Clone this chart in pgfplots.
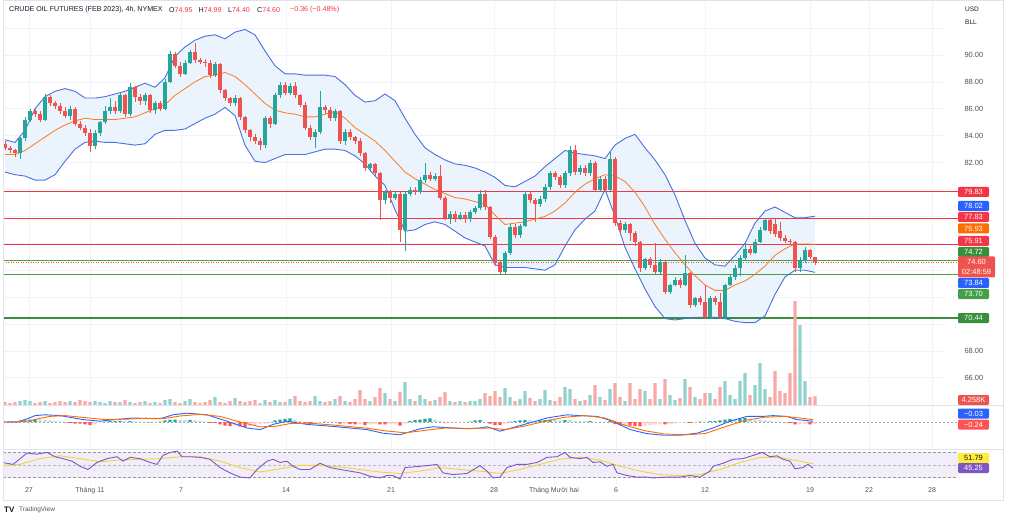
\documentclass[border=0pt]{standalone}
\usepackage{pgfplots}
\pgfplotsset{compat=1.18}
\usepackage{pgfplotstable}
\usepackage{fontspec}
\setmainfont{Liberation Sans}

\definecolor{upc}{HTML}{26A69A}
\definecolor{dnc}{HTML}{EF5350}
\definecolor{volup}{HTML}{92D2CC}
\definecolor{voldn}{HTML}{F7A9A7}
\definecolor{bbline}{HTML}{4A6FE0}
\definecolor{bbfill}{HTML}{EBF3FC}
\definecolor{basis}{HTML}{FF7A1A}
\definecolor{redln}{HTML}{F23645}
\definecolor{grnln}{HTML}{43A047}
\definecolor{grndk}{HTML}{388E3C}
\definecolor{macdc}{HTML}{2962FF}
\definecolor{sigc}{HTML}{FF6D00}
\definecolor{hdt}{HTML}{26A69A}
\definecolor{hlt}{HTML}{B2DFDB}
\definecolor{hdr}{HTML}{FF5252}
\definecolor{hlr}{HTML}{FFCDD2}
\definecolor{rsic}{HTML}{7E57C2}
\definecolor{rsima}{HTML}{F2D33C}
\definecolor{rsibg}{HTML}{F2EEF9}
\definecolor{gridc}{HTML}{F0F3FA}
\definecolor{sepc}{HTML}{E0E3EB}
\definecolor{txtc}{HTML}{131722}
\definecolor{tickc}{HTML}{4C525E}
\definecolor{bluelab}{HTML}{2962FF}
\definecolor{orlab}{HTML}{FF6D00}
\definecolor{yellab}{HTML}{FFEB3B}

% 4h candles that closed up: index, open, high, low, close, volume (K)
\pgfplotstableread{
i o h l c v
3 82.7 83.9 82.3 83.8 2.0
4 83.8 85.4 83.6 85.2 2.5
5 85.2 86.0 85.0 85.8 2.0
8 85.2 87.1 85.1 86.9 2.0
13 85.5 86.2 85.2 86.0 2.0
18 83.2 84.4 83.0 84.2 2.0
19 84.2 85.1 84.0 85.0 1.5
20 85.0 86.2 84.9 85.8 1.0
21 85.8 86.8 85.6 86.1 2.0
23 85.8 87.2 85.7 87.0 1.5
25 85.6 87.9 85.5 87.6 1.5
28 86.6 87.2 86.3 87.0 2.0
30 85.9 86.6 85.6 86.4 1.5
32 86.0 88.2 85.9 88.0 2.5
33 88.0 90.3 87.9 90.1 3.0
36 88.6 89.6 88.5 89.4 2.0
37 89.4 90.4 89.3 90.2 3.0
42 88.5 89.5 88.4 89.3 4.0
46 86.4 87.0 86.2 86.8 3.5
52 83.3 85.5 83.1 85.3 2.5
54 84.9 87.2 84.8 87.0 2.5
55 87.0 88.0 86.8 87.8 1.5
57 87.2 87.9 87.0 87.7 3.0
62 83.9 84.5 83.1 84.3 4.5
63 84.3 87.3 84.1 86.1 2.0
66 85.3 86.0 85.1 85.8 3.0
68 83.6 84.5 83.3 84.3 2.0
73 81.6 82.0 81.3 81.9 2.0
76 79.2 80.0 78.9 79.8 6.0
78 79.4 79.9 79.2 79.7 2.0
80 77.0 79.9 75.4 79.7 11.5
81 79.7 80.2 79.5 80.0 3.0
83 79.8 80.9 79.7 80.7 5.0
84 80.7 82.0 80.5 81.1 3.0
86 80.8 81.2 80.6 81.0 2.5
89 77.9 78.4 77.4 78.2 2.0
91 77.9 78.3 77.7 78.1 2.0
93 77.8 78.5 77.6 78.3 2.0
94 78.3 78.8 78.2 78.6 2.0
95 78.6 80.0 78.5 79.7 3.0
100 73.9 75.4 73.7 75.3 8.5
101 75.3 77.4 75.1 77.2 4.0
103 76.6 77.4 76.4 77.3 3.0
104 77.3 79.9 77.2 79.7 7.0
107 78.9 79.5 78.7 79.3 3.0
108 79.3 80.4 79.1 80.2 7.5
109 80.2 81.4 80.0 81.2 2.5
112 80.3 81.4 80.1 81.2 9.0
113 81.2 83.2 81.0 82.9 8.0
115 81.3 81.8 81.1 81.6 2.0
117 81.2 82.2 81.0 82.0 5.0
119 80.0 81.0 79.8 80.8 4.0
121 80.0 82.8 79.9 82.3 8.0
124 77.0 77.6 76.8 77.4 2.0
128 74.2 74.9 74.0 74.8 7.0
131 73.9 74.8 73.7 74.6 3.0
133 72.4 73.0 72.2 72.9 5.0
134 72.9 73.5 72.8 73.3 2.5
136 72.9 75.1 72.8 73.8 13.0
138 71.4 72.0 71.3 71.9 4.0
141 70.5 72.1 70.4 71.9 6.0
144 70.5 73.0 70.4 72.9 12.0
145 72.9 73.7 72.8 73.5 5.0
146 73.5 74.4 73.3 74.2 3.0
147 74.2 75.1 73.6 74.9 12.0
148 74.9 76.0 74.7 75.6 16.0
150 75.3 76.3 75.2 76.1 10.0
151 76.1 77.2 76.0 77.0 21.0
152 77.0 77.9 76.9 77.7 8.0
159 74.2 75.0 73.9 74.7 40.0
160 74.7 75.7 74.5 75.5 12.0
}\ohlcup

% 4h candles that closed down
\pgfplotstableread{
i o h l c v
0 83.4 83.6 82.9 83.1 1.5
1 83.1 83.2 82.7 82.9 1.0
2 82.9 83.0 82.4 82.7 1.5
6 85.8 86.0 85.4 85.6 1.0
7 85.6 85.8 85.0 85.2 1.5
9 86.9 87.0 86.2 86.4 1.0
10 86.4 86.6 86.0 86.2 1.5
11 86.2 86.4 85.6 85.8 2.0
12 85.8 86.1 85.3 85.5 1.5
14 86.0 86.1 84.7 84.9 1.5
15 84.9 85.1 84.4 84.6 2.5
16 84.6 84.8 84.0 84.2 2.0
17 84.2 84.5 82.8 83.2 1.5
22 86.1 86.6 85.6 85.8 1.5
24 87.0 87.1 85.4 85.6 2.5
26 87.6 87.7 86.5 86.9 1.0
27 86.9 87.1 86.3 86.6 1.5
29 87.0 87.1 85.7 85.9 1.0
31 86.4 86.6 85.8 86.0 1.0
34 90.1 90.2 89.0 89.2 1.5
35 89.2 89.5 88.4 88.6 1.0
38 90.2 90.9 89.4 89.6 1.5
39 89.6 89.8 89.3 89.5 1.0
40 89.5 89.7 89.1 89.4 1.5
41 89.4 89.6 88.3 88.5 2.5
43 89.3 89.4 87.2 87.4 1.5
44 87.4 87.5 86.6 86.8 1.0
45 86.8 86.9 86.2 86.4 2.0
47 86.8 86.9 85.2 85.4 2.0
48 85.4 85.5 84.2 84.4 1.5
49 84.4 84.5 83.6 83.9 2.0
50 83.9 84.1 83.4 83.6 2.5
51 83.6 83.8 82.9 83.3 1.0
53 85.3 85.5 84.6 84.9 1.5
56 87.8 88.0 87.0 87.2 1.5
58 87.7 88.0 86.8 87.0 4.5
59 87.0 87.1 86.1 86.3 2.0
60 86.3 86.5 84.4 84.6 1.5
61 84.6 84.8 83.7 83.9 2.0
64 86.1 86.3 85.6 85.9 1.5
65 85.9 86.1 85.1 85.3 2.0
67 85.8 85.9 83.4 83.6 4.5
69 84.3 84.5 83.7 83.9 1.5
70 83.9 84.0 83.4 83.6 3.0
71 83.6 83.8 82.5 82.7 7.5
72 82.7 82.8 81.4 81.6 3.0
74 81.9 82.0 81.0 81.2 4.0
75 81.2 81.3 77.7 79.2 8.5
77 79.8 80.0 79.0 79.4 3.0
79 79.7 79.8 76.1 77.0 6.5
82 80.0 80.2 79.6 79.8 2.0
85 81.1 81.3 80.6 80.8 2.0
87 81.0 81.8 79.2 79.4 4.0
88 79.4 79.5 77.7 77.9 6.5
90 78.2 78.4 77.6 77.9 1.5
92 78.1 78.3 77.5 77.8 1.5
96 79.7 80.0 78.5 78.7 6.0
97 78.7 78.8 76.3 76.5 4.5
98 76.5 76.6 74.3 74.6 7.0
99 74.6 74.7 73.7 73.9 4.0
102 77.2 77.4 76.4 76.6 2.0
105 79.7 79.9 79.0 79.2 3.5
106 79.2 79.4 77.6 78.9 2.0
110 81.2 81.4 80.7 80.9 2.0
111 80.9 81.1 80.1 80.3 4.0
114 82.9 83.3 81.1 81.3 3.0
116 81.6 81.8 81.0 81.2 2.5
118 82.0 82.1 79.8 80.0 10.0
120 80.8 81.0 79.8 80.0 2.5
122 82.3 82.4 77.3 77.5 11.0
123 77.5 77.7 76.6 77.0 4.0
125 77.4 77.5 76.2 76.8 11.0
126 76.8 76.9 75.8 76.1 3.0
127 76.1 76.2 73.9 74.2 8.0
129 74.8 75.0 74.2 74.4 3.0
130 74.4 76.0 73.7 73.9 11.0
132 74.6 74.7 72.2 72.4 13.0
135 73.3 73.4 72.7 72.9 3.5
137 73.8 73.9 71.2 71.4 9.0
139 71.9 72.1 71.4 71.6 3.0
140 71.6 72.9 70.4 70.5 6.0
142 71.9 72.1 71.4 71.6 3.0
143 71.6 72.3 70.4 70.5 9.0
149 75.6 75.8 75.1 75.3 5.0
153 77.7 77.8 76.7 76.9 4.0
154 77.4 77.8 76.5 76.7 17.0
155 76.9 77.6 76.2 76.4 7.0
156 76.4 76.6 76.0 76.2 6.0
157 76.2 76.3 75.9 76.1 16.0
158 76.1 76.2 73.9 74.2 52.0
161 75.5 75.6 74.8 74.95 4.0
162 74.95 74.99 74.40 74.60 4.258
}\ohlcdn

% Bollinger bands (20, 2)
\pgfplotstableread{
i up mid lo
0 83.7 82.6 81.3
2 83.5 82.6 81.1
4 84.4 82.9 81.0
6 86.0 83.4 80.7
8 86.9 83.9 80.7
10 87.3 84.4 81.1
12 87.5 84.8 82.1
14 87.3 85.1 83.0
16 86.8 85.3 83.5
18 86.8 85.2 83.6
20 86.9 85.2 83.5
22 87.1 85.2 83.5
24 87.3 85.3 83.4
26 87.6 85.4 83.3
28 87.9 85.7 83.4
30 87.6 86.0 84.1
32 88.3 86.3 84.4
34 89.9 87.0 84.4
36 90.6 87.5 84.5
38 91.1 88.0 84.9
40 91.4 88.4 85.3
42 91.5 88.5 85.6
44 91.2 88.7 86.1
46 91.7 88.4 85.5
48 91.9 87.8 83.3
50 91.5 87.1 82.1
52 90.3 86.4 82.0
54 89.2 85.9 82.3
56 88.6 85.7 82.6
58 88.6 85.6 82.6
60 88.5 85.4 82.6
62 88.5 85.4 82.8
64 88.5 85.6 83.0
66 88.4 85.8 83.0
68 87.8 85.3 82.9
70 87.0 84.6 82.5
72 86.5 84.1 81.9
74 86.6 83.6 81.0
76 87.1 82.9 80.3
78 86.6 82.1 78.5
80 85.3 81.3 76.9
82 84.1 80.8 77.0
84 83.1 80.4 77.4
86 82.6 80.0 77.6
88 82.2 79.7 77.4
90 81.9 79.4 76.9
92 81.8 79.3 76.4
94 81.6 79.1 76.1
96 81.3 78.9 75.8
98 80.9 78.1 74.4
100 80.3 77.4 74.2
102 80.2 77.5 74.2
104 80.6 77.6 74.2
106 81.0 77.8 74.1
108 81.7 78.0 74.0
110 82.3 78.4 74.4
112 82.9 79.0 75.8
114 82.7 79.8 77.0
116 82.6 80.4 77.8
118 82.5 80.8 78.4
120 82.3 81.1 80.0
122 83.3 81.0 78.0
124 83.8 80.6 75.7
126 84.1 79.8 74.1
128 83.1 78.7 72.6
130 82.2 77.4 71.3
132 81.1 76.3 70.4
134 79.6 75.3 70.3
136 77.7 74.4 70.4
138 76.0 73.6 70.5
140 74.9 72.9 70.5
142 74.4 72.5 70.5
144 74.3 72.5 70.4
146 75.1 72.9 70.2
148 76.0 73.2 70.1
150 77.5 73.7 70.1
152 78.4 74.3 70.6
154 78.7 75.1 72.2
156 78.3 75.6 73.5
158 77.9 75.95 74.0
160 77.9 75.95 74.0
162 78.02 75.93 73.84
}\bb

\pgfplotsset{
  pane/.style={scale only axis, width=942pt, xmin=-0.4, xmax=188,
    anchor=south west, axis line style={draw=none}, major tick length=0pt,
    xtick={4.8,17,35.2,56.2,77.2,97.8,109.8,122.2,140,161,172.8,185.4},
    xticklabels={}, xmajorgrids, grid style={draw=gridc, line width=0.7pt},
    ytick=\empty},
}
\tikzset{plab/.style={fill=#1, text=white, minimum width=31pt, minimum height=10pt,
  inner sep=0pt, rounded corners=1.2pt, font=\fontsize{7.5}{8}\selectfont}}

\begin{document}
\begin{tikzpicture}[x=1pt,y=1pt]

% price pane
\begin{axis}[pane, at={(3pt,118pt)}, height=405pt, ymin=63.978, ymax=94.089, clip=false,
  ymajorgrids, ytick={66,68,...,92},
  yticklabels={66.00,68.00,,,,,,,82.00,84.00,86.00,88.00,90.00,},
  yticklabel pos=right,
  yticklabel style={font=\fontsize{7.5}{9}\selectfont, text=tickc, xshift=16pt}]
% band area: upper band forward, lower band back
\addplot[fill=bbfill, draw=none] coordinates {
(0,83.7)(2,83.5)(4,84.4)(6,86.0)(8,86.9)(10,87.3)(12,87.5)(14,87.3)(16,86.8)(18,86.8)
(20,86.9)(22,87.1)(24,87.3)(26,87.6)(28,87.9)(30,87.6)(32,88.3)(34,89.9)(36,90.6)(38,91.1)
(40,91.4)(42,91.5)(44,91.2)(46,91.7)(48,91.9)(50,91.5)(52,90.3)(54,89.2)(56,88.6)(58,88.6)
(60,88.5)(62,88.5)(64,88.5)(66,88.4)(68,87.8)(70,87.0)(72,86.5)(74,86.6)(76,87.1)(78,86.6)
(80,85.3)(82,84.1)(84,83.1)(86,82.6)(88,82.2)(90,81.9)(92,81.8)(94,81.6)(96,81.3)(98,80.9)
(100,80.3)(102,80.2)(104,80.6)(106,81.0)(108,81.7)(110,82.3)(112,82.9)(114,82.7)(116,82.6)
(118,82.5)(120,82.3)(122,83.3)(124,83.8)(126,84.1)(128,83.1)(130,82.2)(132,81.1)(134,79.6)
(136,77.7)(138,76.0)(140,74.9)(142,74.4)(144,74.3)(146,75.1)(148,76.0)(150,77.5)(152,78.4)
(154,78.7)(156,78.3)(158,77.9)(160,77.9)(162,78.02)
(162,73.84)(160,74.0)(158,74.0)(156,73.5)(154,72.2)(152,70.6)(150,70.1)(148,70.1)(146,70.2)
(144,70.4)(142,70.5)(140,70.5)(138,70.5)(136,70.4)(134,70.3)(132,70.4)(130,71.3)(128,72.6)
(126,74.1)(124,75.7)(122,78.0)(120,80.0)(118,78.4)(116,77.8)(114,77.0)(112,75.8)(110,74.4)
(108,74.0)(106,74.1)(104,74.2)(102,74.2)(100,74.2)(98,74.4)(96,75.8)(94,76.1)(92,76.4)
(90,76.9)(88,77.4)(86,77.6)(84,77.4)(82,77.0)(80,76.9)(78,78.5)(76,80.3)(74,81.0)(72,81.9)
(70,82.5)(68,82.9)(66,83.0)(64,83.0)(62,82.8)(60,82.6)(58,82.6)(56,82.6)(54,82.3)(52,82.0)
(50,82.1)(48,83.3)(46,85.5)(44,86.1)(42,85.6)(40,85.3)(38,84.9)(36,84.5)(34,84.4)(32,84.4)
(30,84.1)(28,83.4)(26,83.3)(24,83.4)(22,83.5)(20,83.5)(18,83.6)(16,83.5)(14,83.0)(12,82.1)
(10,81.1)(8,80.7)(6,80.7)(4,81.0)(2,81.1)(0,81.3)};
\addplot[redln, line width=1.1pt] coordinates {(-0.4,79.83) (190.6,79.83)};
\addplot[redln, line width=1.1pt] coordinates {(-0.4,77.83) (190.6,77.83)};
\addplot[redln, line width=1.1pt] coordinates {(-0.4,75.91) (190.6,75.91)};
\addplot[grnln, line width=1.1pt] coordinates {(-0.4,74.72) (190.6,74.72)};
\addplot[grnln, line width=1.1pt] coordinates {(-0.4,73.70) (190.6,73.70)};
\addplot[grndk, line width=1.3pt] coordinates {(-0.4,70.44) (190.6,70.44)};
\addplot[dnc, line width=0.8pt, dash pattern=on 1pt off 1.5pt] coordinates {(-0.4,74.60) (190.6,74.60)};
\addplot[bbline, line width=0.9pt] table[x=i,y=up]{\bb};
\addplot[bbline, line width=0.9pt] table[x=i,y=lo]{\bb};
\addplot[basis, line width=0.8pt] table[x=i,y=mid]{\bb};
% wicks (low to high) and bodies (open to close)
\addplot[upc, -, line width=0.8pt, mark=none, quiver={u=0, v=\thisrow{h}-\thisrow{l}}]
  table[x=i, y=l]{\ohlcup};
\addplot[dnc, -, line width=0.8pt, mark=none, quiver={u=0, v=\thisrow{h}-\thisrow{l}}]
  table[x=i, y=l]{\ohlcdn};
\addplot[upc, -, line width=3.4pt, mark=none, quiver={u=0, v=\thisrow{c}-\thisrow{o}}]
  table[x=i, y=o]{\ohlcup};
\addplot[dnc, -, line width=3.4pt, mark=none, quiver={u=0, v=\thisrow{c}-\thisrow{o}}]
  table[x=i, y=o]{\ohlcdn};
\end{axis}

% volume overlay
\begin{axis}[pane, at={(3pt,118pt)}, height=105pt, ymin=0, ymax=52.5, xmajorgrids=false]
\addplot[ybar, bar width=3.4pt, bar shift=0pt, draw=none, fill=volup] table[x=i, y=v]{\ohlcup};
\addplot[ybar, bar width=3.4pt, bar shift=0pt, draw=none, fill=voldn] table[x=i, y=v]{\ohlcdn};
\end{axis}

% MACD pane
\begin{axis}[pane, at={(3pt,74pt)}, height=44pt, ymin=-3.375, ymax=2.125, clip=false]
\draw[tickc!50, dash pattern=on 2pt off 2pt, line width=0.5pt] (axis cs:-0.4,0) -- (axis cs:190.6,0);
\addplot[ybar, bar width=3.4pt, bar shift=0pt, draw=none, fill=hdt] coordinates {
(3,0.06) (4,0.19) (5,0.31) (6,0.38) (20,0.06) (21,0.12) (22,0.12) (23,0.15) (25,0.12)
(31,0.04) (32,0.19) (33,0.31) (34,0.31) (37,0.28) (54,0.19) (55,0.31) (56,0.38) (57,0.44)
(64,0.06) (81,0.12) (82,0.25) (83,0.31) (84,0.38) (85,0.44) (93,0.06) (94,0.19) (95,0.25)
(101,0.06) (102,0.12) (103,0.19) (104,0.25) (107,0.19) (108,0.25) (109,0.31) (112,0.25)
(117,0.12) (121,0.1) (139,0.04) (141,0.1) (142,0.12) (143,0.19) (144,0.31) (145,0.38)
(147,0.44) (148,0.5)};
\addplot[ybar, bar width=3.4pt, bar shift=0pt, draw=none, fill=hlt] coordinates {
(7,0.31) (8,0.25) (9,0.19) (10,0.12) (11,0.06) (24,0.1) (26,0.09) (27,0.06) (28,0.05)
(35,0.25) (36,0.25) (38,0.19) (39,0.12) (40,0.06) (58,0.25) (59,0.12) (65,0.06) (66,0.04)
(86,0.31) (87,0.12) (96,0.06) (105,0.19) (106,0.12) (110,0.25) (111,0.19) (113,0.25)
(114,0.12) (115,0.12) (116,0.1) (118,0.06) (119,0.06) (120,0.04) (140,0.04) (146,0.38)
(149,0.38) (150,0.31) (151,0.25) (152,0.19) (153,0.12) (154,0.06) (155,0.04)};
\addplot[ybar, bar width=3.4pt, bar shift=0pt, draw=none, fill=hdr] coordinates {
(12,-0.06) (13,-0.12) (14,-0.19) (15,-0.19) (16,-0.31) (17,-0.38) (29,-0.06) (41,-0.12)
(42,-0.12) (43,-0.31) (44,-0.44) (45,-0.5) (47,-0.56) (48,-0.62) (60,-0.12) (61,-0.25)
(67,-0.19) (69,-0.25) (70,-0.31) (72,-0.38) (75,-0.31) (76,-0.31) (79,-0.44) (88,-0.06)
(97,-0.19) (98,-0.38) (99,-0.38) (122,-0.25) (123,-0.38) (125,-0.44) (126,-0.5)
(127,-0.56) (132,-0.31) (137,-0.12) (156,-0.06) (157,-0.12) (158,-0.31) (161,-0.31)};
\addplot[ybar, bar width=3.4pt, bar shift=0pt, draw=none, fill=hlr] coordinates {
(18,-0.25) (19,-0.12) (30,-0.05) (46,-0.44) (49,-0.5) (50,-0.38) (51,-0.31) (52,-0.19)
(53,-0.12) (62,-0.19) (63,-0.06) (68,-0.19) (71,-0.31) (73,-0.31) (74,-0.25) (77,-0.25)
(78,-0.25) (80,-0.19) (89,-0.06) (90,-0.06) (91,-0.04) (92,-0.04) (100,-0.19) (124,-0.38)
(128,-0.44) (129,-0.38) (130,-0.31) (131,-0.25) (133,-0.25) (134,-0.19) (135,-0.12)
(136,-0.06) (138,-0.06) (159,-0.31) (160,-0.25) (162,-0.24)};
\addplot[macdc, line width=0.9pt] coordinates {
(-0.4,0) (2.4,0.02) (4.5,0.4) (6,0.8) (8,0.9) (11,0.8) (15.6,0.3) (19,0.1) (22,0.3)
(25.6,0.5) (31,0.4) (33.6,0.9) (36.4,1.1) (40.4,0.9) (44.4,0.1) (48.4,-0.75) (51,-0.95)
(53.6,-0.3) (56.4,0.1) (60.4,-0.3) (65.6,-0.55) (72.4,-0.95) (75.6,-1.4) (79,-1.6)
(83,-0.85) (85.6,-0.6) (92.4,-0.85) (95,-0.75) (96.4,-0.6) (99,-1.15) (105,-0.1)
(108.4,0.5) (112.4,0.9) (115,0.8) (118.4,0.7) (121.6,0.1) (125,-0.95) (128.4,-1.45)
(131.6,-1.65) (135,-1.65) (138.4,-1.4) (141.6,-0.75) (145,0.1) (148.4,0.7) (151.6,0.7)
(153.6,0.8) (156.4,0.7) (158.4,0.3) (161.6,0.1)};
\addplot[sigc, line width=0.9pt] coordinates {
(-0.4,0) (2.4,0) (5,0.15) (7,0.45) (9,0.7) (12,0.8) (16,0.55) (20,0.3) (24,0.35)
(28,0.45) (32,0.45) (35,0.75) (39,0.95) (43,0.7) (47,0.0) (51,-0.6) (54,-0.55)
(57,-0.2) (61,-0.15) (66,-0.4) (72,-0.75) (76,-1.1) (80,-1.35) (84,-1.05) (88,-0.75)
(93,-0.8) (97,-0.75) (100,-0.95) (104,-0.5) (108,0.1) (112,0.6) (116,0.8) (120,0.5)
(124,-0.4) (128,-1.1) (132,-1.5) (136,-1.6) (140,-1.45) (144,-0.6) (148,0.2)
(152,0.6) (156,0.7) (159,0.5) (161.6,0.3)};
\end{axis}

% RSI pane
\begin{axis}[pane, at={(3pt,39pt)}, height=35pt, ymin=20.2, ymax=75.1, clip=false,
  xticklabels={27,Tháng 11,7,14,21,28,Tháng Mười hai,6,12,19,22,28},
  xticklabel style={font=\fontsize{7}{8}\selectfont, text=tickc}]
\fill[rsibg] (axis cs:-0.4,30) rectangle (axis cs:190.6,70);
\draw[tickc!60, dash pattern=on 2.5pt off 2.5pt, line width=0.6pt] (axis cs:-0.4,70) -- (axis cs:190.6,70);
\draw[tickc!40, dash pattern=on 2.5pt off 2.5pt, line width=0.6pt] (axis cs:-0.4,50) -- (axis cs:190.6,50);
\draw[tickc!60, dash pattern=on 2.5pt off 2.5pt, line width=0.6pt] (axis cs:-0.4,30) -- (axis cs:190.6,30);
\addplot[rsima, line width=0.9pt] coordinates {
(-0.4,49.5) (3,51) (7,60) (11,64.4) (15,60) (19,55) (23,58) (27,59) (31,60) (35,63)
(39,63) (43,56) (47,46) (51,39) (55,44) (59,49.5) (63,49.5) (67,47) (71,43) (75,39)
(79,36.7) (83,40.4) (87,46) (91,43) (95,40.4) (99,36.7) (103,43) (107,51) (111,59)
(115,62) (119,58) (123,48) (127,40.4) (131,35) (135,33.5) (139,35) (143,43) (147,54)
(151,62) (155,62) (159,56) (161.6,51.79)};
\addplot[rsic, line width=0.9pt] coordinates {
(-0.4,53.7) (1.6,51) (4.4,68.7) (6.4,67) (8.4,69.7) (10,63) (11.6,60) (13.4,56) (15,48)
(16.6,43) (18.4,54) (20.4,60) (22.4,63) (23.6,56) (25,62) (27,60) (29,54) (30.4,51)
(31.6,65) (33,69.7) (34.4,72) (35.4,63) (37,63) (39,62) (41,59) (43,46) (45,37.7)
(47,31) (49,29.7) (50.4,43) (52.4,56) (53.6,59) (55,54) (56.4,56) (57.6,48) (59,43)
(61,43) (63,52.7) (65,46) (67,43) (69,40.4) (71,37.7) (73,32.4) (75,29.7) (76.4,33.5)
(77.6,33.5) (79,28) (80,46) (81.6,47) (83,48) (85,49.5) (86.4,51) (87.6,37.7) (89.6,35)
(92.4,36.7) (95,49) (96.4,40.4) (97.6,29.7) (99,31) (100.4,46) (102.4,51) (104.4,51)
(106.4,54) (108.4,62) (110.4,63) (112,69.7) (113,62) (115,60) (116.4,62) (117.6,54)
(119,55) (120.4,48) (121.6,51) (122.4,37.7) (124.4,33.5) (126.4,31) (128.4,31)
(129.6,29.7) (132.4,31) (135,31) (137,33.5) (139,31) (141,40.4) (141.6,48) (143.6,52.7)
(145.6,59) (147.6,60) (149.6,65) (151.4,69.7) (153,63) (154.4,64.4) (155.6,59) (157,56)
(158,44) (159.6,46) (160.6,51) (161.6,45.25)};
\end{axis}

% frame and pane separators
\draw[sepc, line width=0.8pt] (3,23) rectangle (1003,523);
\draw[sepc, line width=0.8pt] (3,118) -- (1003,118);
\draw[sepc, line width=0.8pt] (3,74) -- (1003,74);

% title
\begin{scope}[every node/.style={anchor=west, inner sep=0pt, font=\fontsize{7.1}{8}\selectfont, text=txtc}]
\node at (9,513) {CRUDE OIL FUTURES (FEB 2023), 4h, NYMEX};
\node at (169,513) {O\textcolor{redln}{74.95}};
\node at (198.5,513) {H\textcolor{redln}{74.99}};
\node at (228,513) {L\textcolor{redln}{74.40}};
\node at (257,513) {C\textcolor{redln}{74.60}};
\node at (290,513) {\textcolor{redln}{−0.36 (−0.48\%)}};
\node[font=\fontsize{6.5}{7}\selectfont] at (965,513.7) {USD};
\node[font=\fontsize{6.5}{7}\selectfont] at (965,500.3) {BLL};
\node[font=\bfseries\fontsize{8}{8}\selectfont] at (4,13) {TV};
\node[font=\fontsize{6.5}{7}\selectfont, text=tickc] at (19,13) {TradingView};
\end{scope}

% price scale labels
\node[plab=redln] at (973.5,331) {79.83};
\node[plab=bluelab] at (973.5,317) {78.02};
\node[plab=redln] at (973.5,306) {77.83};
\node[plab=orlab] at (973.5,294.5) {75.93};
\node[plab=redln] at (973.5,282) {75.91};
\node[plab=grndk] at (973.5,271) {74.72};
\node[fill=dnc, text=white, minimum width=37pt, minimum height=21pt, inner sep=0pt,
  rounded corners=1.2pt, align=center, font=\fontsize{7.5}{9.5}\selectfont] at (976.5,256) {74.60\\02:48:59};
\node[plab=bluelab] at (973.5,240) {73.84};
\node[plab=grnln] at (973.5,229) {73.70};
\node[plab=grndk] at (973.5,205) {70.44};
\node[plab=dnc] at (973.5,123) {4.258K};
\node[plab=bluelab] at (973.5,109.5) {−0.03};
\node[plab=hdr] at (973.5,98.5) {−0.24};
\node[plab=yellab, text=txtc] at (973.5,65) {51.79};
\node[plab=rsic] at (973.5,55) {45.25};

\pgfresetboundingbox
\path[use as bounding box] (0,0) rectangle (1010,523);
\end{tikzpicture}
\end{document}
